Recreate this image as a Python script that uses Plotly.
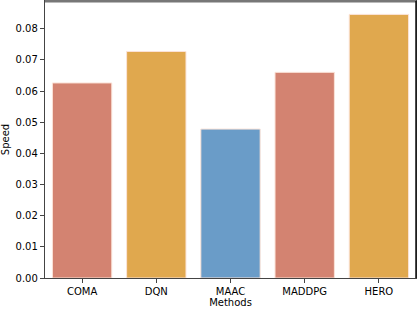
import plotly.graph_objects as go

methods = ["COMA", "DQN", "MAAC", "MADDPG", "HERO"]
speed = [0.0626, 0.0727, 0.0478, 0.0660, 0.0846]
colors = ["#d38371", "#e0a84e", "#6a9cc8", "#d38371", "#e0a84e"]
y_ticks = [0.00, 0.01, 0.02, 0.03, 0.04, 0.05, 0.06, 0.07, 0.08]

fig = go.Figure(go.Bar(
    x=methods, y=speed,
    marker=dict(color=colors, line=dict(color="#fbe3d8", width=1)),
    width=0.8,
))

font = dict(family="DejaVu Sans", size=10, color="#000")
fig.update_layout(
    width=418, height=310,
    margin=dict(l=45, r=2, t=1, b=32, autoexpand=False),
    plot_bgcolor="white", paper_bgcolor="white",
    font=font, showlegend=False,
    bargap=0.2,
)
fig.update_xaxes(
    title=dict(text="Methods", font=font, standoff=2),
    showline=True, linecolor="#444", linewidth=1.3, mirror=True,
    ticks="outside", ticklen=4, tickcolor="#444",
    range=[-0.5, 4.5], showgrid=False, automargin=False,
)
fig.update_yaxes(
    title=dict(text="Speed", font=font, standoff=6),
    showline=True, linecolor="#444", linewidth=1.3, mirror=True,
    ticks="outside", ticklen=4, tickcolor="#444",
    range=[0, 0.0889], tickvals=y_ticks, ticktext=[f"{v:.2f}" for v in y_ticks],
    showgrid=False, zeroline=False, automargin=False,
)
fig.add_shape(type="line", xref="paper", yref="paper", x0=0, x1=1, y0=1, y1=1,
              line=dict(color="#777", width=3))
fig.add_shape(type="line", xref="paper", yref="paper", x0=1, x1=1, y0=0, y1=1,
              line=dict(color="#111", width=1.5))
fig.write_html("out.html", config={"displayModeBar": False},
               post_script="document.body.style.margin='0';document.body.style.overflow='hidden';")
